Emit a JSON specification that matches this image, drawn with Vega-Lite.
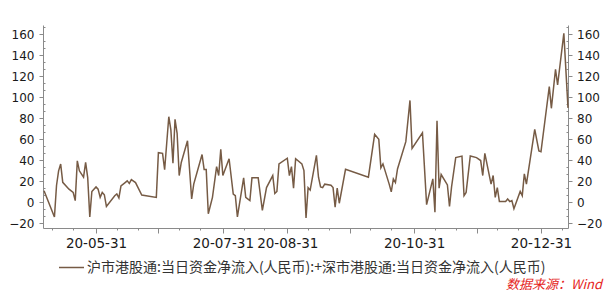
{
  "$schema": "https://vega.github.io/schema/vega-lite/v6.json",
  "width": 525,
  "height": 203,
  "autosize": {"type": "none"},
  "padding": {"left": 43, "top": 25, "right": 40, "bottom": 67},
  "background": "white",
  "config": {
    "view": {"stroke": null},
    "axis": {"grid": false, "domainColor": "#8a8a8a", "tickColor": "#8a8a8a", "labelColor": "#1a1a1a", "labelFont": "DejaVu Sans", "domainWidth": 1, "tickWidth": 1}
  },
  "title": {"text": "数据来源：Wind", "orient": "bottom", "anchor": "end", "frame": "group", "offset": 12, "dx": 34, "dy": -8, "font": "Noto Sans CJK SC", "fontSize": 13, "fontStyle": "italic", "fontWeight": "normal", "color": "#e5231b"},
  "data": {"values": [
    {"date": "2020-05-06", "v": 11}, {"date": "2020-05-11", "v": -14}, {"date": "2020-05-12", "v": 16}, {"date": "2020-05-13", "v": 30},
    {"date": "2020-05-14", "v": 36.5}, {"date": "2020-05-15", "v": 19}, {"date": "2020-05-18", "v": 12.5}, {"date": "2020-05-20", "v": 9.4},
    {"date": "2020-05-21", "v": 1.6}, {"date": "2020-05-22", "v": 39.5}, {"date": "2020-05-23", "v": 30}, {"date": "2020-05-25", "v": 24},
    {"date": "2020-05-26", "v": 38}, {"date": "2020-05-27", "v": 23.5}, {"date": "2020-05-28", "v": -14}, {"date": "2020-05-29", "v": 10.3},
    {"date": "2020-05-31", "v": 14.7}, {"date": "2020-06-01", "v": 12.5}, {"date": "2020-06-02", "v": 4.7}, {"date": "2020-06-03", "v": 9.4},
    {"date": "2020-06-04", "v": 7.2}, {"date": "2020-06-05", "v": -4}, {"date": "2020-06-09", "v": 6.3}, {"date": "2020-06-10", "v": 7.9},
    {"date": "2020-06-11", "v": 4.1}, {"date": "2020-06-12", "v": 15.7}, {"date": "2020-06-14", "v": 18.8}, {"date": "2020-06-15", "v": 20.4},
    {"date": "2020-06-16", "v": 18}, {"date": "2020-06-17", "v": 21.6}, {"date": "2020-06-19", "v": 18.8}, {"date": "2020-06-22", "v": 6.9},
    {"date": "2020-06-29", "v": 4.7}, {"date": "2020-06-30", "v": 47.3}, {"date": "2020-07-02", "v": 46.7}, {"date": "2020-07-03", "v": 31},
    {"date": "2020-07-04", "v": 56.3}, {"date": "2020-07-05", "v": 81.6}, {"date": "2020-07-06", "v": 69}, {"date": "2020-07-07", "v": 37.2},
    {"date": "2020-07-08", "v": 79.1}, {"date": "2020-07-09", "v": 65.8}, {"date": "2020-07-10", "v": 25.5}, {"date": "2020-07-11", "v": 38},
    {"date": "2020-07-14", "v": 58.7}, {"date": "2020-07-16", "v": 3.2}, {"date": "2020-07-17", "v": 17.3}, {"date": "2020-07-21", "v": 45.5},
    {"date": "2020-07-22", "v": 31.2}, {"date": "2020-07-23", "v": 31.2}, {"date": "2020-07-24", "v": -10.9}, {"date": "2020-07-26", "v": 4.7},
    {"date": "2020-07-28", "v": 34}, {"date": "2020-07-29", "v": 25.5}, {"date": "2020-07-30", "v": 50.4}, {"date": "2020-07-31", "v": 25.5},
    {"date": "2020-08-03", "v": 41.5}, {"date": "2020-08-05", "v": 7.9}, {"date": "2020-08-06", "v": 6.3}, {"date": "2020-08-07", "v": -14},
    {"date": "2020-08-10", "v": 23.3}, {"date": "2020-08-11", "v": 4.7}, {"date": "2020-08-13", "v": 1.6}, {"date": "2020-08-14", "v": 23.3},
    {"date": "2020-08-17", "v": 23.3}, {"date": "2020-08-19", "v": -7.8}, {"date": "2020-08-21", "v": 14}, {"date": "2020-08-24", "v": 25.5},
    {"date": "2020-08-25", "v": 8.4}, {"date": "2020-08-26", "v": 10.3}, {"date": "2020-08-27", "v": 36.6}, {"date": "2020-08-31", "v": 42},
    {"date": "2020-09-01", "v": 25.5}, {"date": "2020-09-02", "v": 34}, {"date": "2020-09-03", "v": 13.5}, {"date": "2020-09-04", "v": 41.5},
    {"date": "2020-09-07", "v": 36.6}, {"date": "2020-09-08", "v": 30.2}, {"date": "2020-09-09", "v": -15}, {"date": "2020-09-10", "v": 14},
    {"date": "2020-09-11", "v": 11.6}, {"date": "2020-09-14", "v": 44.8}, {"date": "2020-09-15", "v": 23.9}, {"date": "2020-09-16", "v": 14.7},
    {"date": "2020-09-17", "v": 14}, {"date": "2020-09-18", "v": 17.3}, {"date": "2020-09-21", "v": 16.3}, {"date": "2020-09-22", "v": 14},
    {"date": "2020-09-23", "v": -4.7}, {"date": "2020-09-24", "v": 13.5}, {"date": "2020-09-25", "v": -0.9}, {"date": "2020-09-28", "v": 31.5},
    {"date": "2020-10-09", "v": 23.9}, {"date": "2020-10-12", "v": 64.8}, {"date": "2020-10-14", "v": 60}, {"date": "2020-10-15", "v": 32.8},
    {"date": "2020-10-16", "v": 36.6}, {"date": "2020-10-19", "v": 17.3}, {"date": "2020-10-20", "v": 10}, {"date": "2020-10-21", "v": 22.3},
    {"date": "2020-10-22", "v": 18.8}, {"date": "2020-10-23", "v": 31.8}, {"date": "2020-10-27", "v": 57.8}, {"date": "2020-10-29", "v": 97.1},
    {"date": "2020-10-30", "v": 51.4}, {"date": "2020-11-04", "v": 66.3}, {"date": "2020-11-06", "v": -2.2}, {"date": "2020-11-09", "v": 22.3},
    {"date": "2020-11-10", "v": -9.4}, {"date": "2020-11-11", "v": 77.8}, {"date": "2020-11-12", "v": 13.5}, {"date": "2020-11-13", "v": 26.5},
    {"date": "2020-11-16", "v": 16.6}, {"date": "2020-11-17", "v": -4}, {"date": "2020-11-18", "v": 14.7}, {"date": "2020-11-20", "v": 42.6},
    {"date": "2020-11-23", "v": 44}, {"date": "2020-11-24", "v": 6.3}, {"date": "2020-11-25", "v": 9.4}, {"date": "2020-11-27", "v": 44.2},
    {"date": "2020-11-30", "v": 42.6}, {"date": "2020-12-02", "v": 39.8}, {"date": "2020-12-03", "v": 25.5}, {"date": "2020-12-04", "v": 46.7},
    {"date": "2020-12-07", "v": 17.3}, {"date": "2020-12-08", "v": 25.5}, {"date": "2020-12-09", "v": 4.7}, {"date": "2020-12-10", "v": 14},
    {"date": "2020-12-11", "v": 0.7}, {"date": "2020-12-14", "v": 0.7}, {"date": "2020-12-15", "v": 3.2}, {"date": "2020-12-16", "v": 0.7},
    {"date": "2020-12-17", "v": 1.6}, {"date": "2020-12-18", "v": -6.2}, {"date": "2020-12-21", "v": 10.3}, {"date": "2020-12-22", "v": 6.3},
    {"date": "2020-12-23", "v": 27.1}, {"date": "2020-12-24", "v": 17.3}, {"date": "2020-12-28", "v": 69.6}, {"date": "2020-12-30", "v": 49},
    {"date": "2020-12-31", "v": 48.2}, {"date": "2021-01-04", "v": 110.2}, {"date": "2021-01-05", "v": 89.6}, {"date": "2021-01-07", "v": 126.8},
    {"date": "2021-01-08", "v": 111.8}, {"date": "2021-01-11", "v": 161}, {"date": "2021-01-13", "v": 90}
  ]},
  "encoding": {
    "x": {
      "field": "date", "type": "temporal",
      "scale": {"type": "utc", "domain": [{"year": 2020, "month": 5, "date": 5, "hours": 12, "utc": true}, {"year": 2021, "month": 1, "date": 13, "utc": true}]},
      "axis": {
        "title": null,
        "values": [
          {"year": 2020, "month": 5, "date": 10, "utc": true}, {"year": 2020, "month": 5, "date": 20, "utc": true}, {"year": 2020, "month": 5, "date": 31, "utc": true},
          {"year": 2020, "month": 6, "date": 10, "utc": true}, {"year": 2020, "month": 6, "date": 20, "utc": true}, {"year": 2020, "month": 6, "date": 30, "utc": true},
          {"year": 2020, "month": 7, "date": 10, "utc": true}, {"year": 2020, "month": 7, "date": 20, "utc": true}, {"year": 2020, "month": 7, "date": 31, "utc": true},
          {"year": 2020, "month": 8, "date": 10, "utc": true}, {"year": 2020, "month": 8, "date": 20, "utc": true}, {"year": 2020, "month": 8, "date": 31, "utc": true},
          {"year": 2020, "month": 9, "date": 10, "utc": true}, {"year": 2020, "month": 9, "date": 20, "utc": true}, {"year": 2020, "month": 9, "date": 30, "utc": true},
          {"year": 2020, "month": 10, "date": 10, "utc": true}, {"year": 2020, "month": 10, "date": 20, "utc": true}, {"year": 2020, "month": 10, "date": 31, "utc": true},
          {"year": 2020, "month": 11, "date": 10, "utc": true}, {"year": 2020, "month": 11, "date": 20, "utc": true}, {"year": 2020, "month": 11, "date": 30, "utc": true},
          {"year": 2020, "month": 12, "date": 10, "utc": true}, {"year": 2020, "month": 12, "date": 20, "utc": true}, {"year": 2020, "month": 12, "date": 31, "utc": true},
          {"year": 2021, "month": 1, "date": 10, "utc": true}
        ],
        "labelExpr": "indexof(['20-05-31','20-07-31','20-08-31','20-10-31','20-12-31'], utcFormat(datum.value, '%y-%m-%d')) >= 0 ? utcFormat(datum.value, '%y-%m-%d') : ''",
        "labelOverlap": false,
        "labelFlush": false,
        "labelFontSize": 13.5,
        "labelPadding": 3,
        "tickSize": {"condition": {"test": "utcdate(datum.value) > 25", "value": 5}, "value": 2}
      }
    }
  },
  "layer": [
    {
      "mark": {"type": "line", "strokeWidth": 1.5, "interpolate": "linear"},
      "encoding": {
        "y": {
          "field": "v", "type": "quantitative",
          "scale": {"domain": [-24.5, 169], "nice": false, "zero": false},
          "axis": {
            "title": null, "orient": "left",
            "values": [-20, -13.333, -6.667, 0, 6.667, 13.333, 20, 26.667, 33.333, 40, 46.667, 53.333, 60, 66.667, 73.333, 80, 86.667, 93.333, 100, 106.667, 113.333, 120, 126.667, 133.333, 140, 146.667, 153.333, 160, 166.667],
            "labelExpr": "abs(datum.value % 20) < 0.01 ? format(datum.value, 'd') : ''",
            "labelFontSize": 12,
            "labelPadding": 5,
            "labelOverlap": false,
            "tickSize": {"condition": {"test": "abs(datum.value % 20) < 0.01", "value": 4}, "value": -2}
          }
        },
        "color": {
          "datum": "沪市港股通:当日资金净流入(人民币):+深市港股通:当日资金净流入(人民币)",
          "type": "nominal",
          "scale": {"range": ["#765b45"]},
          "legend": {
            "title": null, "orient": "none", "legendX": 15, "legendY": 229, "padding": 0,
            "symbolType": "stroke", "symbolSize": 625, "symbolStrokeWidth": 1.5,
            "labelFont": "Noto Sans CJK SC", "labelFontSize": 14, "labelColor": "#333333",
            "labelLimit": 1000, "labelOffset": 2
          }
        }
      }
    },
    {
      "mark": {"type": "line", "strokeWidth": 1.5, "opacity": 0},
      "encoding": {
        "y": {
          "field": "v", "type": "quantitative",
          "scale": {"domain": [-24.5, 169], "nice": false, "zero": false},
          "axis": {
            "title": null, "orient": "right",
            "values": [-20, -13.333, -6.667, 0, 6.667, 13.333, 20, 26.667, 33.333, 40, 46.667, 53.333, 60, 66.667, 73.333, 80, 86.667, 93.333, 100, 106.667, 113.333, 120, 126.667, 133.333, 140, 146.667, 153.333, 160, 166.667],
            "labelExpr": "abs(datum.value % 20) < 0.01 ? format(datum.value, 'd') : ''",
            "labelFontSize": 12,
            "labelPadding": 4.5,
            "labelOverlap": false,
            "tickSize": {"condition": {"test": "abs(datum.value % 20) < 0.01", "value": 4}, "value": -2}
          }
        }
      }
    }
  ],
  "resolve": {"axis": {"y": "independent"}}
}
